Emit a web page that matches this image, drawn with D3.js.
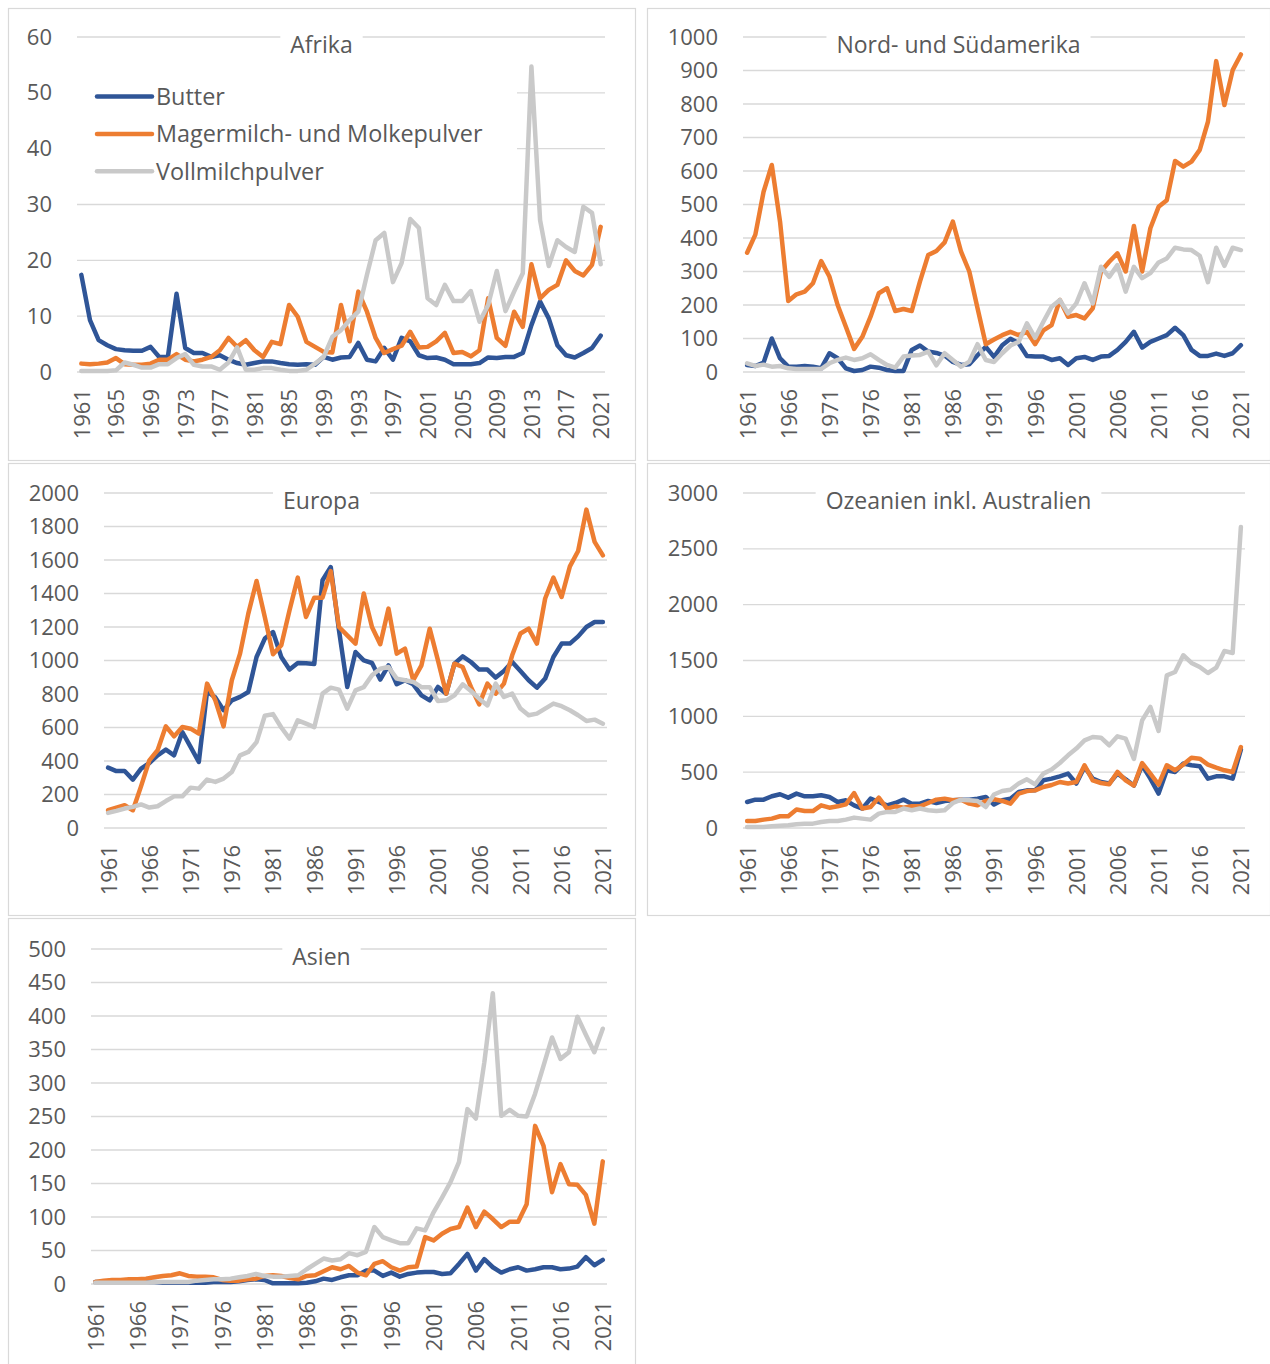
<!DOCTYPE html>
<html>
<head>
<meta charset="utf-8">
<script src="https://cdn.jsdelivr.net/npm/d3@7"></script>
<style>
  body { margin: 0; background: #fff; }
  text { font-family: 'Open Sans', sans-serif; }
</style>
</head>
<body>
<div id="chart"></div>
<script>
// Jahre 1961-2021 (Kategorien)
const years = d3.range(1961, 2022);

const seriesNames = ['Butter', 'Magermilch- und Molkepulver', 'Vollmilchpulver'];

// Afrika
const afrikaButter = [17.4, 9.3, 5.7, 4.8, 4.1, 3.9, 3.8, 3.8, 4.5, 2.7, 2.7, 14, 4.3, 3.4, 3.4, 2.7, 3.0, 2.2, 1.6, 1.3,
  1.6, 1.9, 1.9, 1.6, 1.4, 1.3, 1.4, 1.3, 2.7, 2.2, 2.6, 2.7, 5.2, 2.2, 1.9, 4.3, 2.2, 6.1, 5.5, 3.0,
  2.5, 2.6, 2.2, 1.4, 1.4, 1.4, 1.6, 2.6, 2.5, 2.7, 2.7, 3.4, 8.4, 12.6, 9.6, 4.8, 3.0, 2.6, 3.4, 4.3, 6.5];
const afrikaMager = [1.5, 1.4, 1.5, 1.7, 2.5, 1.4, 1.3, 1.3, 1.5, 2.2, 2.2, 3.2, 2.2, 1.9, 2.2, 2.7, 3.9, 6.1, 4.5, 5.7,
  3.9, 2.7, 5.4, 5.0, 12, 9.9, 5.4, 4.5, 3.6, 3.5, 12, 5.5, 14.4, 10.8, 6.1, 3.4, 4.1, 4.7, 7.2, 4.4,
  4.5, 5.5, 7.0, 3.4, 3.6, 2.8, 3.9, 13.2, 6.1, 4.7, 10.8, 8.1, 19.3, 13.2, 14.7, 15.6, 20, 18.1, 17.3, 19.2, 26.0];
const afrikaVoll = [0.2, 0.2, 0.2, 0.2, 0.3, 1.7, 1.3, 0.8, 0.8, 1.4, 1.4, 2.5, 3.2, 1.3, 1.0, 1.0, 0.4, 1.7, 4.4, 0.4,
  0.4, 0.7, 0.7, 0.4, 0.2, 0.2, 0.4, 1.5, 2.7, 6.3, 7.5, 9.3, 10.8, 17.4, 23.6, 24.9, 16.1, 19.5, 27.4, 25.8,
  13.2, 12, 15.6, 12.7, 12.7, 14.5, 9.0, 12.0, 18.1, 10.9, 14.4, 17.7, 54.7, 27.2, 19, 23.6, 22.4, 21.5, 29.6, 28.5, 19.3];

// Nord- und Südamerika
const nordButter = [21, 18, 28, 100, 41, 16, 16, 18, 16, 11, 56, 41, 11, 3, 6, 16, 13, 6, 3, 3,
  66, 79, 61, 57, 49, 30, 21, 23, 50, 75, 45, 80, 99, 86, 48, 46, 46, 36, 41, 21,
  41, 45, 36, 46, 48, 66, 90, 120, 73, 90, 100, 110, 132, 110, 66, 48, 48, 55, 48, 56, 80];
const nordMager = [356, 410, 538, 618, 449, 212, 232, 240, 265, 331, 285, 200, 135, 69, 105, 165, 235, 250, 182, 188,
  182, 270, 349, 361, 387, 449, 359, 300, 190, 83, 97, 110, 120, 110, 120, 83, 124, 140, 215, 165,
  170, 160, 190, 300, 329, 354, 300, 436, 300, 429, 493, 513, 630, 613, 628, 663, 747, 928, 797, 901, 948];
const nordVoll = [26, 18, 22, 16, 18, 11, 9, 9, 9, 9, 26, 36, 43, 36, 41, 53, 36, 21, 13, 46,
  49, 51, 61, 20, 56, 36, 16, 31, 83, 36, 30, 56, 79, 90, 145, 102, 150, 195, 215, 175,
  205, 265, 205, 314, 284, 319, 240, 314, 280, 295, 327, 339, 371, 366, 364, 347, 268, 371, 317, 371, 364];

// Europa
const europaButter = [360, 340, 340, 289, 355, 388, 434, 468, 434, 573, 484, 394, 815, 780, 703, 762, 783, 812, 1021, 1131,
  1170, 1021, 946, 985, 984, 979, 1479, 1558, 1180, 842, 1051, 1001, 985, 886, 971, 858, 882, 858, 792, 762,
  842, 802, 981, 1025, 991, 946, 946, 898, 937, 991, 937, 882, 838, 892, 1021, 1101, 1101, 1144, 1200, 1230, 1230];
const europaMager = [106, 122, 136, 106, 250, 404, 464, 607, 547, 603, 593, 563, 862, 762, 607, 882, 1041, 1280, 1475, 1260,
  1037, 1091, 1300, 1495, 1260, 1375, 1375, 1534, 1200, 1150, 1101, 1400, 1200, 1097, 1310, 1041, 1071, 882, 971, 1190,
  1001, 802, 981, 961, 842, 738, 862, 802, 862, 1031, 1161, 1190, 1101, 1370, 1495, 1379, 1562, 1654, 1901, 1708, 1628];
const europaVoll = [90, 102, 116, 126, 141, 122, 130, 161, 189, 189, 241, 235, 289, 275, 295, 334, 434, 454, 513, 670,
  680, 600, 534, 643, 623, 602, 802, 838, 826, 713, 822, 841, 912, 951, 961, 892, 882, 872, 841, 841,
  758, 762, 792, 858, 818, 772, 732, 862, 782, 802, 713, 673, 683, 713, 743, 727, 703, 673, 639, 647, 623];

// Ozeanien inkl. Australien
const ozeanienButter = [233, 254, 254, 284, 302, 272, 308, 284, 284, 293, 278, 233, 248, 203, 174, 263, 233, 203, 224, 254,
  218, 218, 242, 224, 242, 248, 254, 254, 263, 278, 210, 248, 263, 322, 337, 337, 427, 442, 463, 487,
  398, 547, 442, 412, 398, 487, 436, 380, 562, 442, 308, 517, 502, 577, 562, 553, 442, 463, 463, 442, 702];
const ozeanienMager = [63, 63, 75, 84, 105, 105, 165, 152, 152, 203, 182, 194, 212, 313, 174, 188, 272, 174, 194, 182,
  194, 194, 224, 254, 263, 248, 254, 218, 203, 242, 258, 242, 218, 308, 331, 337, 367, 385, 412, 398,
  412, 562, 427, 403, 391, 502, 427, 380, 582, 487, 388, 562, 517, 568, 630, 621, 568, 541, 517, 502, 725];
const ozeanienVoll = [10, 10, 10, 15, 21, 24, 33, 39, 39, 54, 63, 63, 75, 93, 84, 75, 129, 144, 144, 174,
  159, 174, 159, 152, 159, 224, 254, 248, 242, 188, 300, 331, 343, 398, 436, 391, 487, 523, 582, 651,
  711, 785, 815, 809, 741, 821, 800, 618, 964, 1084, 869, 1367, 1397, 1547, 1478, 1442, 1388, 1436, 1585, 1567, 2696];

// Asien
const asienButter = [3, 3, 3, 3, 3, 3, 3, 3, 2, 2, 2, 2, 2, 2, 3, 3, 3, 4, 6, 7,
  6, 1, 1, 1, 1, 2, 4, 8, 6, 10, 13, 13, 20, 20, 12, 17, 11, 15, 17, 18,
  18, 15, 16, 30, 45, 20, 37, 25, 17, 22, 25, 20, 22, 25, 25, 22, 23, 26, 40, 28, 36];
const asienMager = [3, 5, 6, 6, 7, 7, 8, 10, 12, 13, 16, 12, 11, 11, 10, 6, 5, 5, 7, 8,
  12, 13, 12, 9, 7, 12, 13, 19, 25, 22, 27, 17, 13, 30, 34, 25, 20, 25, 26, 70,
  65, 75, 82, 85, 114, 85, 108, 97, 85, 93, 93, 119, 236, 206, 137, 179, 149, 148, 133, 90, 183];
const asienVoll = [2, 2, 2, 2, 2, 2, 2, 3, 3, 3, 3, 3, 5, 6, 7, 7, 8, 10, 12, 15,
  12, 11, 11, 12, 13, 22, 30, 38, 35, 37, 46, 43, 48, 85, 70, 65, 61, 61, 83, 80,
  107, 129, 152, 182, 261, 247, 331, 434, 251, 260, 251, 250, 284, 326, 368, 336, 346, 399, 372, 346, 381];

// Achsenbeschriftungen
const afrikaYTicks = [0, 10, 20, 30, 40, 50, 60];
const nordYTicks = [0, 100, 200, 300, 400, 500, 600, 700, 800, 900, 1000];
const europaYTicks = [0, 200, 400, 600, 800, 1000, 1200, 1400, 1600, 1800, 2000];
const ozeanienYTicks = [0, 500, 1000, 1500, 2000, 2500, 3000];
const asienYTicks = [0, 50, 100, 150, 200, 250, 300, 350, 400, 450, 500];
const xTicksAfrika = [1961, 1965, 1969, 1973, 1977, 1981, 1985, 1989, 1993, 1997, 2001, 2005, 2009, 2013, 2017, 2021];
const xTicksOther = [1961, 1966, 1971, 1976, 1981, 1986, 1991, 1996, 2001, 2006, 2011, 2016, 2021];

const colors = ['#2F5597', '#ED7D31', '#C9C9C9'];
const textColor = '#595959';
const gridColor = '#D9D9D9';

const panels = [
  { title: 'Afrika', series: [afrikaButter, afrikaMager, afrikaVoll], yTicks: afrikaYTicks, xTicks: xTicksAfrika,
    box: { x: 8, y: 8, w: 627, h: 452 }, plot: { l: 77, r: 605, t: 37, b: 372 }, legend: true },
  { title: 'Nord- und Südamerika', series: [nordButter, nordMager, nordVoll], yTicks: nordYTicks, xTicks: xTicksOther,
    box: { x: 647, y: 8, w: 623, h: 452 }, plot: { l: 743, r: 1245, t: 37, b: 372 } },
  { title: 'Europa', series: [europaButter, europaMager, europaVoll], yTicks: europaYTicks, xTicks: xTicksOther,
    box: { x: 8, y: 463, w: 627, h: 452 }, plot: { l: 104, r: 607, t: 493, b: 828 } },
  { title: 'Ozeanien inkl. Australien', series: [ozeanienButter, ozeanienMager, ozeanienVoll], yTicks: ozeanienYTicks, xTicks: xTicksOther,
    box: { x: 647, y: 463, w: 623, h: 452 }, plot: { l: 743, r: 1245, t: 493, b: 828 } },
  { title: 'Asien', series: [asienButter, asienMager, asienVoll], yTicks: asienYTicks, xTicks: xTicksOther,
    box: { x: 8, y: 918, w: 627, h: 460 }, plot: { l: 91, r: 607, t: 949, b: 1284 } }
];

const svg = d3.select('#chart').append('svg')
  .attr('width', 1270)
  .attr('height', 1364);

panels.forEach(p => {
  const g = svg.append('g');

  // Rahmen
  g.append('rect')
    .attr('x', p.box.x + 0.5).attr('y', p.box.y + 0.5)
    .attr('width', p.box.w).attr('height', p.box.h)
    .attr('fill', '#fff').attr('stroke', gridColor).attr('stroke-width', 1.2);

  const x = d3.scalePoint().domain(years).range([p.plot.l, p.plot.r]).padding(0.5);
  const y = d3.scaleLinear().domain([0, d3.max(p.yTicks)]).range([p.plot.b, p.plot.t]);

  // Gitternetz
  g.append('g').selectAll('line').data(p.yTicks).join('line')
    .attr('x1', p.plot.l).attr('x2', p.plot.r)
    .attr('y1', d => y(d)).attr('y2', d => y(d))
    .attr('stroke', gridColor).attr('stroke-width', 1.3);

  // Y-Achse
  g.append('g')
    .attr('transform', `translate(${p.plot.l},0)`)
    .call(d3.axisLeft(y).tickValues(p.yTicks).tickFormat(d3.format('d')).tickSize(0).tickPadding(25))
    .call(a => a.select('.domain').remove())
    .attr('font-family', null).attr('font-size', 22).attr('color', textColor);

  // X-Achse (gedreht)
  g.append('g')
    .attr('transform', `translate(0,${p.plot.b})`)
    .call(d3.axisBottom(x).tickValues(p.xTicks).tickSize(0))
    .call(a => a.select('.domain').remove())
    .attr('font-family', null).attr('font-size', 22).attr('color', textColor)
    .selectAll('text')
    .attr('transform', 'rotate(-90)')
    .attr('text-anchor', 'end')
    .attr('x', -17).attr('y', 0).attr('dy', '0.36em');

  // Legende
  if (p.legend) {
    g.append('rect')
      .attr('x', p.plot.l).attr('y', 72).attr('width', 440).attr('height', 118)
      .attr('fill', '#fff');
    const lg = g.append('g').attr('transform', 'translate(97,96.5)');
    seriesNames.forEach((name, k) => {
      lg.append('line')
        .attr('x1', 0).attr('x2', 55)
        .attr('y1', k * 37.4).attr('y2', k * 37.4)
        .attr('stroke', colors[k]).attr('stroke-width', 4.5).attr('stroke-linecap', 'round');
      lg.append('text')
        .attr('x', 59).attr('y', k * 37.4).attr('dy', '0.36em')
        .attr('font-size', 23.4).attr('fill', textColor)
        .text(name);
    });
  }

  // Linien
  const line = d3.line()
    .x((d, i) => x(years[i]))
    .y(d => y(d));

  p.series.forEach((vals, k) => {
    g.append('path')
      .datum(vals)
      .attr('d', line)
      .attr('fill', 'none')
      .attr('stroke', colors[k])
      .attr('stroke-width', 4.5)
      .attr('stroke-linejoin', 'round')
      .attr('stroke-linecap', 'round');
  });

  // Titel mit weissem Hintergrund
  const cx = p.box.x + p.box.w / 2;
  const t = g.append('text')
    .attr('x', cx).attr('y', p.plot.t + 16)
    .attr('text-anchor', 'middle')
    .attr('font-size', 23).attr('fill', textColor)
    .text(p.title);
  const w = t.node().getComputedTextLength();
  g.insert('rect', () => t.node())
    .attr('x', cx - w / 2 - 10).attr('y', p.plot.t - 6)
    .attr('width', w + 20).attr('height', 30)
    .attr('fill', '#fff');
});
</script>
</body>
</html>
